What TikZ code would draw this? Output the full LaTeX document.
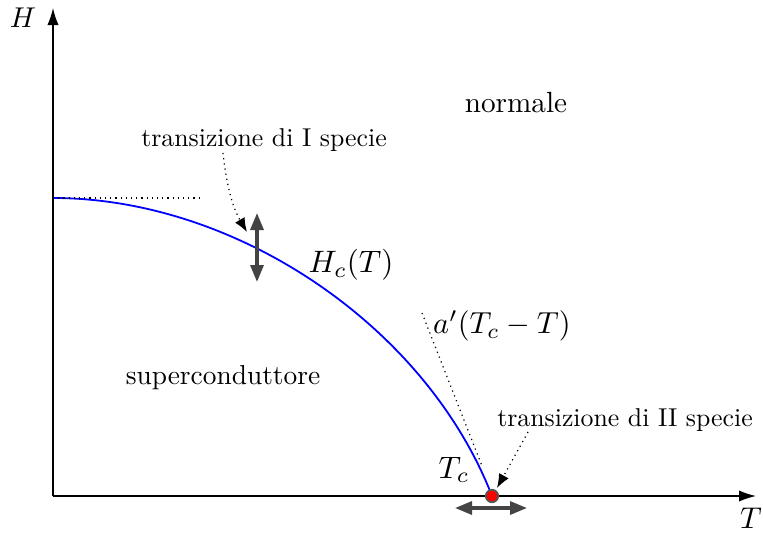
\documentclass[tikz,border=0pt]{standalone}
\usepackage{graphicx}
\usetikzlibrary{arrows.meta}
\definecolor{arrgray}{HTML}{444444}
\definecolor{dotgray}{HTML}{555555}
\tikzset{
  axis/.style={line width=0.65pt, -{Latex[length=8.5pt,width=5.6pt]}},
  curve/.style={blue, line width=0.9pt},
  guide/.style={dotted, line width=0.6pt},
  pointer/.style={dotted, line width=0.6pt, -{Latex[length=7pt,width=5.5pt]}},
  twoway/.style={arrgray, line width=1.6pt, {Triangle[length=8.5pt,width=6.5pt]}-{Triangle[length=8.5pt,width=6.5pt]}},
  lbl/.style={inner sep=0pt, anchor=center},
}
\begin{document}
\begin{tikzpicture}[x=0.5pt, y=-0.5pt]
\useasboundingbox (0,0) rectangle (763,541);
% axes
\coordinate (O) at (53,496);
\coordinate (Htip) at (53,8);
\coordinate (Ttip) at (756,496);
\draw[axis] (O) -- (Htip);
\draw[axis] (O) -- (Ttip);
\node[lbl] (Hl) at (23,18) {\scalebox{1.43}{$H$}};
\node[lbl] (Tl) at (751,518) {\scalebox{1.5}{$T$}};
% critical curve
\coordinate (H0) at (53,198);
\coordinate (Tc) at (492,496);
\draw[curve] (H0) .. controls (238,198) and (426.8,327.9) .. (Tc);
% guide lines
\coordinate (Hend) at (200,198);
\draw[guide] (H0) -- (Hend);
\coordinate (Lstart) at (422,313);
\coordinate (Lend) at (482,466);
\draw[guide] (Lstart) -- (Lend);
% region labels
\node[lbl] (norm) at (516,103) {\scalebox{1.46}{normale}};
\node[lbl] (sup) at (223,378) {\scalebox{1.37}{superconduttore}};
\node[lbl] (Hc) at (351,265) {\scalebox{1.55}{$H_c(T)$}};
\node[lbl] (ap) at (502,326) {\scalebox{1.52}{$a'(T_c-T)$}};
\node[lbl] (Tcl) at (454,470) {\scalebox{1.55}{$T_c$}};
% transition labels
\node[lbl] (t1) at (264,140) {\scalebox{1.29}{transizione di I specie}};
\node[lbl] (t2) at (625,420) {\scalebox{1.29}{transizione di II specie}};
\coordinate (t1s) at (223,153);
\coordinate (t1e) at (247,232);
\draw[pointer] (t1s) .. controls (227,190) and (234,210) .. (t1e);
\coordinate (t2s) at (528,432);
\coordinate (t2e) at (497,488);
\draw[pointer] (t2s) -- (t2e);
% double arrows
\coordinate (va) at (257,213);
\coordinate (vb) at (257,282);
\draw[twoway] (va) -- (vb);
\coordinate (ha) at (455,508);
\coordinate (hb) at (527,508);
\draw[twoway] (ha) -- (hb);
% critical point
\node[circle, fill=red, draw=dotgray, line width=0.9pt, minimum size=6.2pt, inner sep=0pt] (dot) at (Tc) {};
\end{tikzpicture}
\end{document}
